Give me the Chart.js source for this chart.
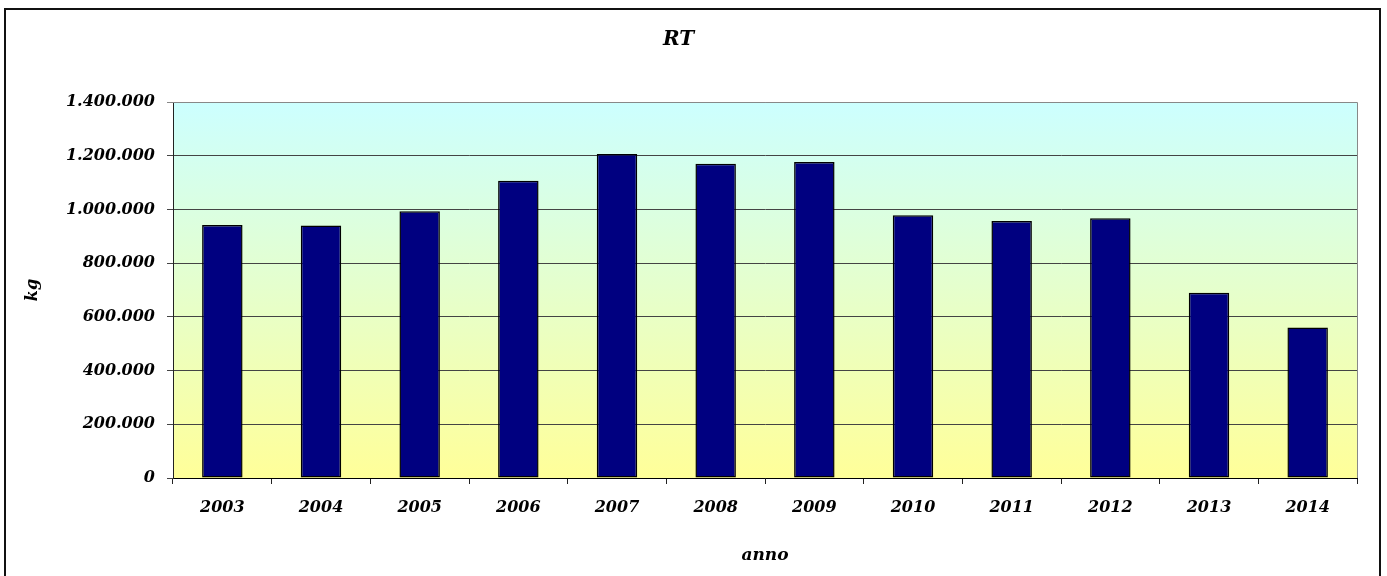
<!DOCTYPE html>
<html>
<head>
<meta charset="utf-8">
<script src="https://cdn.jsdelivr.net/npm/chart.js@4/dist/chart.umd.min.js"></script>
<style>
  html, body { margin: 0; padding: 0; background: #fff; }
  #wrap { width: 1387px; height: 576px; }
</style>
</head>
<body>
<div id="wrap"><canvas id="chart" width="1387" height="576"></canvas></div>
<script>
// data (kg per year)
const years = ['2003', '2004', '2005', '2006', '2007', '2008', '2009', '2010', '2011', '2012', '2013', '2014'];
const kg = [942000, 940000, 993000, 1107000, 1206000, 1170000, 1177000, 978000, 957000, 967000, 690000, 560000];
const yMax = 1400000;
const yStep = 200000;

const FONT = "'DejaVu Serif', serif";

// 1400000 -> "1.400.000"
function dotted(v) {
    return String(Math.round(v)).replace(/\B(?=(\d{3})+(?!\d))/g, '.');
}

const plotBackground = {
    id: 'plotBackground',
    beforeDraw(chart) {
        const { ctx, chartArea: a } = chart;
        const g = ctx.createLinearGradient(0, a.top, 0, a.bottom);
        g.addColorStop(0, '#ccffff');
        g.addColorStop(1, '#ffff99');
        ctx.save();
        ctx.fillStyle = g;
        ctx.fillRect(a.left, a.top, a.right - a.left, a.bottom - a.top);
        ctx.restore();
    }
};

const frames = {
    id: 'frames',
    afterDraw(chart) {
        const { ctx, chartArea: a } = chart;
        ctx.save();
        // grey edge of the plot area (top and right)
        ctx.strokeStyle = '#888';
        ctx.lineWidth = 1;
        ctx.beginPath();
        ctx.moveTo(a.left, Math.round(a.top) + 0.5);
        ctx.lineTo(Math.round(a.right) + 0.5, Math.round(a.top) + 0.5);
        ctx.lineTo(Math.round(a.right) + 0.5, a.bottom);
        ctx.stroke();
        // outer chart border
        ctx.strokeStyle = '#111';
        ctx.lineWidth = 2;
        ctx.strokeRect(5, 9, 1375, 600);
        ctx.restore();
    }
};

new Chart(document.getElementById('chart'), {
    type: 'bar',
    data: {
        labels: years,
        datasets: [{
            label: 'RT',
            data: kg,
            backgroundColor: '#000080',
            borderColor: '#000000',
            borderWidth: 1.5,
            borderSkipped: false,
            categoryPercentage: 1.0,
            barPercentage: 0.41
        }]
    },
    options: {
        responsive: false,
        animation: false,
        devicePixelRatio: 1,
        layout: { padding: { left: 0, right: 30, top: 0, bottom: 0 } },
        plugins: {
            legend: { display: false },
            tooltip: { enabled: false },
            title: {
                display: true,
                text: 'RT',
                color: '#000',
                font: { family: FONT, size: 20, weight: 'bold', style: 'italic' },
                padding: { top: 28, bottom: 50 }
            }
        },
        scales: {
            x: {
                afterFit: (s) => { s.height = 98; },
                grid: {
                    offset: true,
                    drawOnChartArea: false,
                    drawTicks: true,
                    tickLength: 6,
                    color: '#222'
                },
                border: { color: '#000', width: 1 },
                ticks: {
                    color: '#000',
                    padding: 14,
                    font: { family: FONT, size: 16, weight: 'bold', style: 'italic' }
                },
                title: {
                    display: true,
                    text: 'anno',
                    color: '#000',
                    font: { family: FONT, size: 17, weight: 'bold', style: 'italic' },
                    padding: { top: 0, bottom: 10 }
                }
            },
            y: {
                min: 0,
                max: yMax,
                afterFit: (s) => { s.width = 173; },
                grid: {
                    tickLength: 6,
                    color: (c) => c.tick && c.tick.value === yMax ? '#888' : '#444'
                },
                border: { color: '#222', width: 1 },
                ticks: {
                    stepSize: yStep,
                    color: '#000',
                    padding: 12,
                    font: { family: FONT, size: 16, weight: 'bold', style: 'italic' },
                    callback: (v) => dotted(v)
                },
                title: {
                    display: true,
                    text: 'kg',
                    color: '#000',
                    font: { family: FONT, size: 16, weight: 'bold', style: 'italic' },
                    padding: { top: 23, bottom: 0 }
                }
            }
        }
    },
    plugins: [plotBackground, frames]
});
</script>
</body>
</html>
